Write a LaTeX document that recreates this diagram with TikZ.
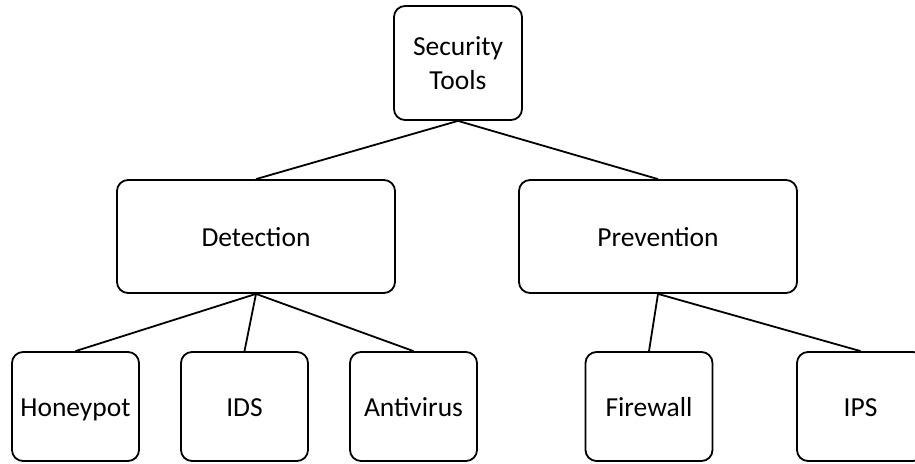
\documentclass[tikz,border=0pt]{standalone}
\usepackage{fontspec}
\setmainfont{Carlito}
\begin{document}
\begin{tikzpicture}[x=1pt,y=-1pt,
  box/.style={draw=black, line width=1.8pt, rounded corners=11pt, inner sep=0pt, align=center, font=\fontsize{27.5}{34}\selectfont, fill=white},
  single/.style={box, text height=22pt, text depth=2pt},
  conn/.style={draw=black, line width=1.8pt}]
\useasboundingbox (0,0) rectangle (915,463);
\clip (0,0) rectangle (915,463);
\node[box, minimum width=128pt, minimum height=114pt] (st) at (458,63) {Security\\Tools};
\node[single, minimum width=278pt, minimum height=113pt] (det) at (256,236.5) {Detection};
\node[single, minimum width=278pt, minimum height=113pt] (pre) at (658,236.5) {Prevention};
\node[single, minimum width=127pt, minimum height=109pt] (hon) at (75.5,406.5) {Honeypot};
\node[single, minimum width=127pt, minimum height=109pt] (ids) at (244.5,406.5) {IDS};
\node[single, minimum width=127pt, minimum height=109pt] (ant) at (413.5,406.5) {Antivirus};
\node[single, minimum width=127pt, minimum height=109pt] (fw) at (649,406.5) {Firewall};
\node[single, minimum width=127pt, minimum height=109pt] (ips) at (860.5,406.5) {IPS};
\draw[conn] (st.south) -- (det.north);
\draw[conn] (st.south) -- (pre.north);
\draw[conn] (det.south) -- (hon.north);
\draw[conn] (det.south) -- (ids.north);
\draw[conn] (det.south) -- (ant.north);
\draw[conn] (pre.south) -- (fw.north);
\draw[conn] (pre.south) -- (ips.north);
\end{tikzpicture}
\end{document}
